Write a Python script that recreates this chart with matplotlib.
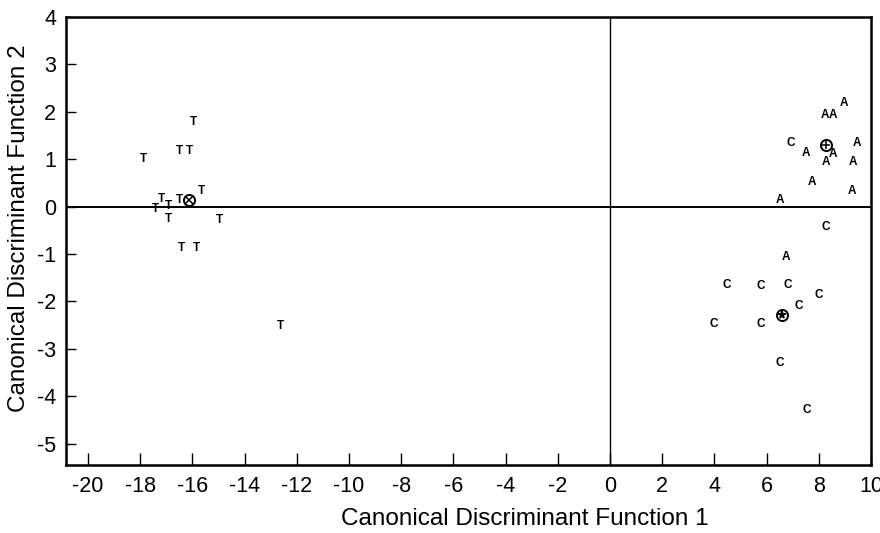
import matplotlib
matplotlib.use("Agg")
import matplotlib.pyplot as plt

plt.rcParams['font.family'] = ['Liberation Sans', 'DejaVu Sans']

# Group T cases
t_x = [-15.94, -16.48, -16.13, -17.89, -17.20, -16.93, -17.43, -16.93,
       -16.51, -15.67, -14.98, -16.40, -15.86, -12.61]
t_y = [1.79, 1.17, 1.17, 1.00, 0.17, 0.02, -0.06, -0.26,
       0.13, 0.34, -0.28, -0.87, -0.87, -2.51]

# Group A cases
a_x = [7.51, 8.54, 8.28, 9.46, 9.31, 7.74, 9.27, 6.51, 8.24, 8.54, 8.97, 6.74]
a_y = [1.13, 1.11, 0.94, 1.34, 0.94, 0.53, 0.32, 0.13, 1.94, 1.94, 2.19, -1.06]

# Group C cases
c_x = [6.93, 8.28, 4.48, 5.79, 6.82, 8.01, 7.24, 3.98, 5.79, 6.51, 7.55]
c_y = [1.34, -0.43, -1.66, -1.68, -1.66, -1.87, -2.09, -2.47, -2.47, -3.30, -4.30]

# Group centroids
cent_labels = ['T', 'A', 'C']
cent_x = [-16.13, 8.28, 6.59]
cent_y = [0.13, 1.30, -2.28]
cent_inner = ['x', '+', '*']

x_ticks = list(range(-20, 11, 2))
y_ticks = list(range(-5, 5, 1))

fig = plt.figure(figsize=(8.8, 5.33), dpi=100)
ax = fig.add_axes([66/880, 1-465/533, (871-66)/880, (465-17)/533])

ax.set_xlim(-20.84, 10.0)
ax.set_ylim(-5.45, 4.0)

ax.axhline(0, color='black', lw=1.4, zorder=1)
ax.axvline(0, color='black', lw=1.0, zorder=1)

txt_kw = dict(ha='center', va='center', fontsize=8.5, fontweight='bold', color='black')
for x, y in zip(t_x, t_y):
    ax.text(x, y, 'T', **txt_kw)
for x, y in zip(a_x, a_y):
    ax.text(x, y, 'A', **txt_kw)
for x, y in zip(c_x, c_y):
    ax.text(x, y, 'C', **txt_kw)

for x, y, m in zip(cent_x, cent_y, cent_inner):
    ax.plot(x, y, marker='o', ms=8, mfc='white', mec='black', mew=1.4, zorder=3)
    ax.plot(x, y, marker=m, ms=6 if m != '*' else 5.5, color='black',
            mew=1.1, zorder=4, linestyle='none')

ax.set_xticks(x_ticks)
ax.set_yticks(y_ticks)
ax.set_xticklabels([str(v) for v in x_ticks])
ax.set_yticklabels([str(v) for v in y_ticks])
ax.tick_params(axis='x', direction='in', length=9, width=1.0, pad=8, labelsize=15.5)
ax.tick_params(axis='y', direction='in', length=7, width=1.0, pad=7, labelsize=15.5)

for s in ax.spines.values():
    s.set_linewidth(1.8)

ax.set_xlabel('Canonical Discriminant Function 1', fontsize=17.5)
ax.set_ylabel('Canonical Discriminant Function 2', fontsize=17.5)
ax.xaxis.set_label_coords(0.57, -0.097)
ax.yaxis.set_label_coords(-0.045, 0.529)

fig.savefig('out.png', dpi=100)
